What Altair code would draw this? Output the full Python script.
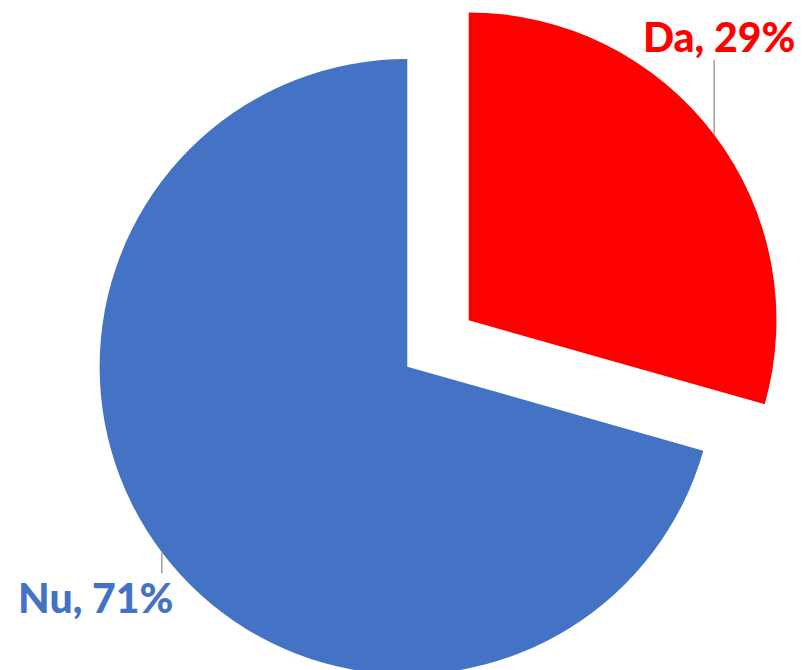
import altair as alt
import pandas as pd

categories = ["Da", "Nu"]
values = [29.4, 70.6]
colors = ["#FF0000", "#4472C4"]
explode = [1, 0]

df = pd.DataFrame({
    "idx": list(range(len(categories))),
    "category": categories,
    "value": values,
    "explode": explode,
})

CX, CY, R, D = 399.3, 358.7, 307.7, 77

base = alt.Chart(df).transform_joinaggregate(
    total="sum(value)"
).transform_window(
    cum="sum(value)", sort=[alt.SortField("idx")], frame=[None, 0]
).transform_calculate(
    a0="(datum.cum - datum.value) / datum.total * 2 * PI",
    a1="datum.cum / datum.total * 2 * PI",
).transform_calculate(
    mid="(datum.a0 + datum.a1) / 2",
).transform_calculate(
    cx=f"{CX} + datum.explode * {D} * sin(datum.mid)",
    cy=f"{CY} - datum.explode * {D} * cos(datum.mid)",
).transform_calculate(
    ex=f"datum.cx + {R} * sin(datum.mid)",
    ey=f"datum.cy - {R} * cos(datum.mid)",
    up="cos(datum.mid) > 0",
    label="datum.category + ', ' + format(datum.value / datum.total, '.0%')",
).transform_calculate(
    ly2="datum.up ? datum.ey - 75 : datum.ey + 21",
    tx="datum.up ? datum.ex + 5 : datum.ex - 66",
).transform_calculate(
    ty="datum.up ? datum.ly2 - 8 : datum.ly2 + 40",
)

color = alt.Color("category:N", scale=alt.Scale(domain=categories, range=colors), legend=None)

pie = base.mark_arc(radius=R, stroke=None).encode(
    x=alt.X("cx:Q", scale=None),
    y=alt.Y("cy:Q", scale=None),
    theta=alt.Theta("a0:Q", scale=None, stack=None),
    theta2="a1:Q",
    color=color,
)

leader = base.mark_rule(color="#A6A6A6", strokeWidth=1.6).encode(
    x=alt.X("ex:Q", scale=None),
    y=alt.Y("ey:Q", scale=None),
    y2="ly2:Q",
)

labels = base.mark_text(
    font="Lato", fontWeight=900, fontSize=41, align="center", baseline="alphabetic"
).encode(
    x=alt.X("tx:Q", scale=None),
    y=alt.Y("ty:Q", scale=None),
    text="label:N",
    color=color,
)

chart = alt.layer(pie, leader, labels).properties(
    width=789, height=662, padding=0, autosize="none"
).configure_view(stroke=None)

chart.save("out.html", embed_options={"renderer": "svg", "actions": False})
